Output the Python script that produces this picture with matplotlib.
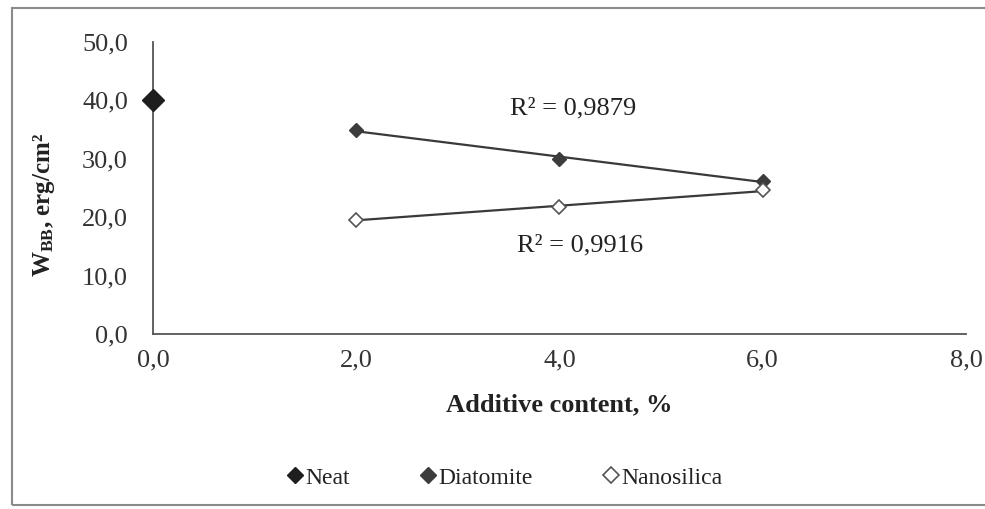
import numpy as np
import matplotlib
matplotlib.use('Agg')
import matplotlib.pyplot as plt
from matplotlib.patches import Rectangle
from matplotlib.ticker import FuncFormatter, MultipleLocator

plt.rcParams['font.family'] = ['Liberation Serif', 'DejaVu Serif']
plt.rcParams['mathtext.fontset'] = 'custom'
plt.rcParams['mathtext.rm'] = 'Liberation Serif'
plt.rcParams['mathtext.bf'] = 'Liberation Serif:bold'

# surface free energy W_BB vs additive content
neat_x = [0.0]
neat_y = [40.0]
diat_x = [2.0, 4.0, 6.0]
diat_y = [34.9, 30.0, 26.2]
nano_x = [2.0, 4.0, 6.0]
nano_y = [19.6, 21.7, 24.6]
r2_diat = "R² = 0,9879"
r2_nano = "R² = 0,9916"

fs = 19
fig = plt.figure(figsize=(9.85, 5.09), dpi=100)
ax = fig.add_axes([0.1553, 0.3438, 0.8254, 0.5737])

# linear trendlines over the data range
for xs, ys in [(diat_x, diat_y), (nano_x, nano_y)]:
    k, b = np.polyfit(xs, ys, 1)
    xx = np.array([min(xs), max(xs)])
    ax.plot(xx, k * xx + b, color='#3a3a3a', lw=1.6, zorder=2)

ax.plot(neat_x, neat_y, 'D', ms=11, color='#1e1e1e', ls='none', label='Neat',
        zorder=3, clip_on=False)
ax.plot(diat_x, diat_y, 'D', ms=7.5, color='#3c3c3c', ls='none', label='Diatomite', zorder=3)
ax.plot(nano_x, nano_y, 'D', ms=7.5, mfc='white', mec='#555555', mew=1.2, ls='none',
        label='Nanosilica', zorder=3)

ax.set_xlim(0, 8)
ax.set_ylim(0, 50)
ax.xaxis.set_major_locator(MultipleLocator(2))
ax.yaxis.set_major_locator(MultipleLocator(10))
fmt = FuncFormatter(lambda v, p: f"{v:.1f}".replace('.', ','))
ax.xaxis.set_major_formatter(fmt)
ax.yaxis.set_major_formatter(fmt)
ax.tick_params(length=0, labelsize=fs, colors='#333333')
ax.tick_params(axis='x', pad=11)
ax.tick_params(axis='y', pad=18)
for s in ['top', 'right']:
    ax.spines[s].set_visible(False)
for s in ['left', 'bottom']:
    ax.spines[s].set_color('#555555')
    ax.spines[s].set_linewidth(1.3)

ax.set_xlabel('Additive content, %', fontsize=fs, fontweight='bold', color='#222222', labelpad=16)
ax.set_ylabel(r'$\mathbf{W_{BB}}$, erg/cm²', fontsize=18, fontweight='bold', color='#222222')
ax.yaxis.set_label_coords(-0.118, 0.442)

ax.text(4.13, 38.7, r2_diat, fontsize=fs, ha='center', va='center', color='#222222')
ax.text(4.2, 15.2, r2_nano, fontsize=fs, ha='center', va='center', color='#222222')

leg = fig.legend(loc='center', bbox_to_anchor=(0.513, 0.061), ncol=3, frameon=False,
                 fontsize=17, handlelength=0.6, handletextpad=0.15, columnspacing=3.0,
                 labelcolor='#222222')
for h in leg.legend_handles:
    h.set_markersize(8)

fig.patches.append(Rectangle((0.012, 0.008), 1.0, 0.976, transform=fig.transFigure,
                             fill=False, edgecolor='#8a8a8a', lw=1.5))

fig.savefig('out.png', dpi=100)
